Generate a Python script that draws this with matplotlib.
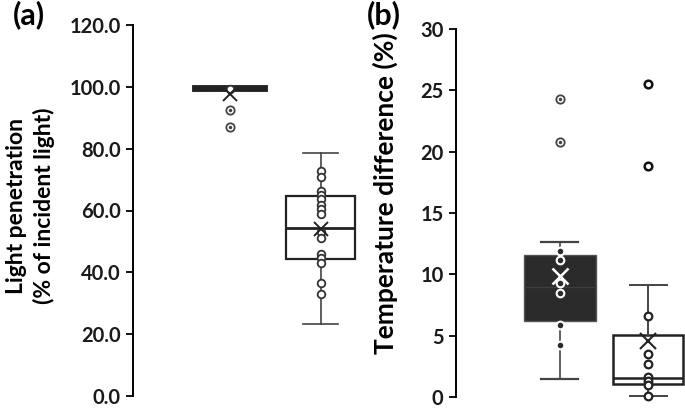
import matplotlib
matplotlib.use("Agg")
import matplotlib.pyplot as plt

plt.rcParams['font.family'] = ['Lato', 'DejaVu Sans']
plt.rcParams['font.weight'] = 'bold'

# ---------------- data ----------------
# Panel (a): light penetration (% of incident light)
a_whislo = [99.0, 23.4]
a_q1 = [99.2, 44.3]
a_med = [99.6, 54.5]
a_q3 = [100.0, 64.8]
a_whishi = [100.0, 78.6]
a_mean = [97.8, 54.0]
a_points_1 = [99.2]
a_points_2 = [72.8, 70.9, 66.3, 64.9, 63.8, 61.9, 60.6, 59.0, 52.9, 51.0,
              45.9, 44.6, 43.0, 36.6, 33.0]
a_outliers_1 = [92.4, 87.0]
a_ticks = [0, 20, 40, 60, 80, 100, 120]
a_ticklabels = ["0.0", "20.0", "40.0", "60.0", "80.0", "100.0", "120.0"]

# Panel (b): temperature difference (%)
b_whislo = [1.45, 0.05]
b_q1 = [6.18, 1.07]
b_med = [8.95, 1.56]
b_q3 = [11.56, 5.05]
b_whishi = [12.6, 9.1]
b_mean = [9.9, 4.6]
b_points_1 = [11.9, 11.2, 9.3, 8.5, 5.9, 4.25]
b_points_2 = [6.6, 3.5, 2.7, 1.6, 1.3, 1.0, 0.05]
b_outliers_1 = [24.3, 20.8]
b_outliers_2 = [25.5, 18.8]
b_ticks = [0, 5, 10, 15, 20, 25, 30]
b_ticklabels = ["0", "5", "10", "15", "20", "25", "30"]

W, H = 685, 409
fig = plt.figure(figsize=(6.85, 4.09), dpi=100)
# axes boxes in pixel terms (left, top, right, bottom)
axa = fig.add_axes([133 / W, 1 - 396 / H, (366 - 133) / W, (396 - 25) / H])
axb = fig.add_axes([456 / W, 1 - 397 / H, (685 - 456) / W, (397 - 29) / H])


def mkstats(whislo, q1, med, q3, whishi):
    return [dict(whislo=whislo[i], q1=q1[i], med=med[i], q3=q3[i],
                 whishi=whishi[i], fliers=[]) for i in range(len(q1))]


def style_axis(ax, ylim, ticks, labels):
    ax.set_ylim(*ylim)
    for s in ['top', 'right', 'bottom']:
        ax.spines[s].set_visible(False)
    ax.spines['left'].set_linewidth(1.4)
    ax.set_xticks([])
    ax.set_yticks(ticks)
    ax.set_yticklabels(labels, fontsize=14.5, fontweight='bold', color='#1a1a1a')
    ax.tick_params(axis='y', direction='out', length=5, width=1.3, pad=4)


# ---------- panel (a) ----------
sa = mkstats(a_whislo, a_q1, a_med, a_q3, a_whishi)
axa.bxp([sa[0]], positions=[1], widths=0.78, showfliers=False, patch_artist=True,
        boxprops=dict(facecolor='white', edgecolor='#222222', linewidth=3.5),
        medianprops=dict(color='#222222', linewidth=3.5),
        whiskerprops=dict(color='#444444', linewidth=1.2),
        capprops=dict(color='#444444', linewidth=1.2), capwidths=0.3)
axa.bxp([sa[1]], positions=[2], widths=0.76, showfliers=False, patch_artist=True,
        boxprops=dict(facecolor='white', edgecolor='#222222', linewidth=1.6),
        medianprops=dict(color='#222222', linewidth=2.0),
        whiskerprops=dict(color='#444444', linewidth=1.2),
        capprops=dict(color='#444444', linewidth=1.2), capwidths=0.38)
axa.plot([1] * len(a_points_1), a_points_1, 'o', ms=5.5, mfc='white', mec='#333333', mew=1.3, zorder=5)
axa.plot([2] * len(a_points_2), a_points_2, 'o', ms=5.5, mfc='white', mec='#333333', mew=1.3, zorder=5)
axa.plot([1] * len(a_outliers_1), a_outliers_1, 'o', ms=6, mfc='white', mec='#444444', mew=1.3, zorder=5)
axa.plot([1] * len(a_outliers_1), a_outliers_1, '.', ms=3, color='#444444', zorder=6)
axa.plot([1, 2], a_mean, 'x', ms=10, mew=1.4, color='#222222', zorder=6)
axa.set_xlim(-0.066, 2.5)
style_axis(axa, (0, 120), a_ticks, a_ticklabels)
axa.set_ylabel("Light penetration\n(% of incident light)", fontsize=16.5,
               fontweight='bold', linespacing=1.3)
axa.yaxis.set_label_coords(-0.335, 0.513)

# ---------- panel (b) ----------
sb = mkstats(b_whislo, b_q1, b_med, b_q3, b_whishi)
axb.bxp([sb[0]], positions=[1], widths=0.82, showfliers=False, patch_artist=True,
        boxprops=dict(facecolor='#2b2b2b', edgecolor='#555555', linewidth=1.0),
        medianprops=dict(color='#3d3d3d', linewidth=1.0),
        whiskerprops=dict(color='#444444', linewidth=1.2),
        capprops=dict(color='#444444', linewidth=1.6), capwidths=0.42)
axb.bxp([sb[1]], positions=[2], widths=0.80, showfliers=False, patch_artist=True,
        boxprops=dict(facecolor='white', edgecolor='#222222', linewidth=1.8),
        medianprops=dict(color='#222222', linewidth=1.8),
        whiskerprops=dict(color='#444444', linewidth=1.4),
        capprops=dict(color='#444444', linewidth=1.4), capwidths=0.42)
axb.plot([1] * len(b_points_1), b_points_1, 'o', ms=5.5, mfc='#2b2b2b', mec='white', mew=1.5, zorder=5)
axb.plot([2] * len(b_points_2), b_points_2, 'o', ms=5.5, mfc='white', mec='#222222', mew=1.6, zorder=5)
axb.plot([1] * len(b_outliers_1), b_outliers_1, 'o', ms=6, mfc='white', mec='#444444', mew=1.3, zorder=5)
axb.plot([1] * len(b_outliers_1), b_outliers_1, '.', ms=3, color='#444444', zorder=6)
axb.plot([2] * len(b_outliers_2), b_outliers_2, 'o', ms=5.5, mfc='white', mec='#111111', mew=1.8, zorder=5)
axb.plot([1], b_mean[:1], 'x', ms=11, mew=1.8, color='white', zorder=6)
axb.plot([2], b_mean[1:], 'x', ms=11, mew=1.5, color='#222222', zorder=6)
axb.set_xlim(-0.18, 2.42)
style_axis(axb, (0, 30), b_ticks, b_ticklabels)
axb.set_ylabel("Temperature difference (%)", fontsize=19, fontweight='bold')
axb.yaxis.set_label_coords(-0.255, 0.555)

for ax in (axa, axb):
    for art in ax.get_children():
        try:
            art.set_clip_on(False)
        except Exception:
            pass

fig.text(13 / W, 1.0, "(a)", fontsize=22, fontweight='bold', va='top', ha='left')
fig.text(367 / W, 1.0, "(b)", fontsize=22, fontweight='bold', va='top', ha='left')

fig.savefig("out.png", dpi=100)
